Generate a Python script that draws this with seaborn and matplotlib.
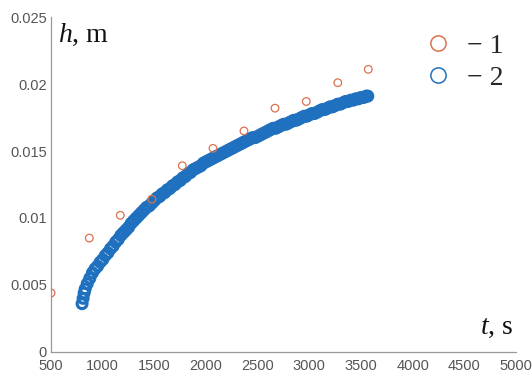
import numpy as np
import pandas as pd
import seaborn as sns
import matplotlib.pyplot as plt
from matplotlib.lines import Line2D

# serie 1 - experimento (circulos laranja abertos)
t_exp = [500, 870, 1170, 1475, 1770, 2067, 2367, 2667, 2970, 3275, 3570]
h_exp = [0.0044, 0.0085, 0.0102, 0.0114, 0.0139, 0.0152, 0.0165, 0.0182, 0.0187, 0.0201, 0.0211]

# serie 2 - calculo (circulos azuis bem densos)
t_calc = [800, 810, 820, 830, 850, 875, 900, 925, 950, 975,
          1000, 1025, 1050, 1075, 1100, 1125, 1150, 1175, 1200, 1225,
          1250, 1275, 1300, 1325, 1350, 1375, 1400, 1425, 1450, 1475,
          1500, 1525, 1550, 1575, 1600, 1625, 1650, 1675, 1700, 1725,
          1750, 1775, 1800, 1825, 1850, 1875, 1900, 1925, 1950, 1975,
          2000, 2025, 2050, 2075, 2100, 2125, 2150, 2175, 2200, 2225,
          2250, 2275, 2300, 2325, 2350, 2375, 2400, 2425, 2450, 2475,
          2500, 2525, 2550, 2575, 2600, 2625, 2650, 2675, 2700, 2725,
          2750, 2775, 2800, 2825, 2850, 2875, 2900, 2925, 2950, 2975,
          3000, 3025, 3050, 3075, 3100, 3125, 3150, 3175, 3200, 3225,
          3250, 3275, 3300, 3325, 3350, 3375, 3400, 3425, 3450, 3475,
          3500, 3525, 3550, 3565]
h_calc = [0.0036, 0.0040, 0.0044, 0.0047, 0.0051, 0.0055, 0.0059, 0.0062, 0.0064, 0.0067,
          0.0069, 0.0072, 0.0074, 0.0077, 0.0079, 0.0082, 0.0084, 0.0087, 0.0089, 0.0091,
          0.0093, 0.0096, 0.0098, 0.0100, 0.0102, 0.0104, 0.0106, 0.0108, 0.0109, 0.0111,
          0.0113, 0.0115, 0.0116, 0.0118, 0.0119, 0.0121, 0.0122, 0.0124, 0.0125, 0.0127,
          0.0128, 0.0130, 0.0131, 0.0133, 0.0134, 0.0136, 0.0137, 0.0138, 0.0139, 0.0141,
          0.0142, 0.0143, 0.0144, 0.0145, 0.0146, 0.0147, 0.0148, 0.0149, 0.0150, 0.0151,
          0.0152, 0.0153, 0.0154, 0.0155, 0.0156, 0.0157, 0.0158, 0.0159, 0.0160, 0.0160,
          0.0161, 0.0162, 0.0163, 0.0164, 0.0165, 0.0166, 0.0167, 0.0167, 0.0168, 0.0169,
          0.0170, 0.0170, 0.0171, 0.0172, 0.0173, 0.0173, 0.0174, 0.0175, 0.0176, 0.0176,
          0.0177, 0.0178, 0.0178, 0.0179, 0.0180, 0.0181, 0.0181, 0.0182, 0.0183, 0.0183,
          0.0184, 0.0185, 0.0185, 0.0186, 0.0187, 0.0187, 0.0188, 0.0188, 0.0189, 0.0189,
          0.0190, 0.0190, 0.0191, 0.0191]

x_ticks = [500, 1000, 1500, 2000, 2500, 3000, 3500, 4000, 4500, 5000]
y_ticks = [0, 0.005, 0.01, 0.015, 0.02, 0.025]
y_labels = ['0', '0.005', '0.01', '0.015', '0.02', '0.025']
legend_labels = ['\u2212 1', '\u2212 2']

cor_exp = '#D9724F'
cor_calc = '#1F70BE'

sns.set_style('white')
plt.rcParams['font.family'] = ['Liberation Sans', 'DejaVu Sans']
plt.rcParams['mathtext.fontset'] = 'custom'
plt.rcParams['mathtext.rm'] = 'Liberation Serif'
plt.rcParams['mathtext.it'] = 'Liberation Serif:italic'

fig = plt.figure(figsize=(5.32, 3.72), dpi=100)
ax = fig.add_axes([0.096, 0.054, 0.874, 0.900])

sns.scatterplot(x=t_calc, y=h_calc, ax=ax, marker='o', s=50, facecolor='none',
                edgecolor=cor_calc, linewidth=2.3, zorder=2)
sns.scatterplot(x=t_exp, y=h_exp, ax=ax, marker='o', s=30, facecolor='none',
                edgecolor=cor_exp, linewidth=0.9, zorder=3)

ax.set_xlim(500, 5000)
ax.set_ylim(0, 0.025)
ax.set_xticks(x_ticks)
ax.set_yticks(y_ticks)
ax.set_yticklabels(y_labels)
ax.set_xlabel('')
ax.set_ylabel('')

# eixos estilo matlab: so esquerda e baixo, ticks para dentro
sns.despine(ax=ax)
for lado in ['left', 'bottom']:
    ax.spines[lado].set_color('#999999')
    ax.spines[lado].set_linewidth(0.9)
ax.tick_params(direction='in', length=3, width=0.8, color='#999999',
               labelcolor='#555555', labelsize=10.5)
ax.tick_params(axis='x', pad=5)
ax.tick_params(axis='y', pad=3)

ax.text(0.014, 0.985, '$h$, m', transform=ax.transAxes, ha='left', va='top',
        fontsize=20, family='Liberation Serif', color='#111111')
ax.text(0.995, 0.035, '$t$, s', transform=ax.transAxes, ha='right', va='bottom',
        fontsize=20, family='Liberation Serif', color='#111111')

handles = [Line2D([], [], linestyle='none', marker='o', markersize=11, markerfacecolor='none',
                  markeredgecolor=cor_exp, markeredgewidth=1.1),
           Line2D([], [], linestyle='none', marker='o', markersize=11, markerfacecolor='none',
                  markeredgecolor=cor_calc, markeredgewidth=1.1)]
ax.legend(handles, legend_labels, loc='upper left', bbox_to_anchor=(0.76, 1.01), frameon=False,
          prop={'family': 'Liberation Serif', 'size': 20}, handletextpad=0.55,
          labelspacing=0.25, handlelength=1.0, borderpad=0.2)

plt.savefig('out.png', dpi=100)
